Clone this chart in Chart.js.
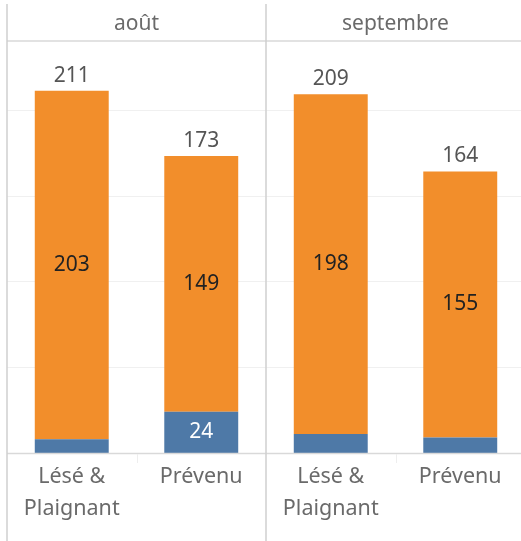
<!DOCTYPE html>
<html>
<head>
<meta charset="utf-8">
<script src="https://cdn.jsdelivr.net/npm/chart.js@4.4.1/dist/chart.umd.min.js"></script>
<style>
  html, body { margin: 0; padding: 0; background: #fff; overflow: hidden; }
  #wrap { position: absolute; left: 0; top: 0; width: 540px; height: 541px; }
</style>
</head>
<body>
<div id="wrap"><canvas id="chart" width="540" height="541"></canvas></div>
<script>
// données
const months = ["août", "septembre"];
const roles = [["Lésé &", "Plaignant"], ["Prévenu"]];
const categories = ["août - Lésé & Plaignant", "août - Prévenu", "septembre - Lésé & Plaignant", "septembre - Prévenu"];
const blueValues = [8, 24, 11, 9];
const orangeValues = [203, 149, 198, 155];
const totals = [211, 173, 209, 164];
const gridValues = [50, 100, 150, 200];

const FONT = "'Noto Sans', sans-serif";
const BLUE = "#4e79a7";
const ORANGE = "#f28e2b";

const gridPlugin = {
  id: "grid",
  beforeDatasetsDraw(chart) {
    const { ctx, chartArea, scales } = chart;
    ctx.save();
    ctx.strokeStyle = "#f0f0f0";
    ctx.lineWidth = 1;
    for (const v of gridValues) {
      const y = Math.round(scales.y.getPixelForValue(v)) + 0.5;
      ctx.beginPath();
      ctx.moveTo(chartArea.left, y);
      ctx.lineTo(chartArea.right, y);
      ctx.stroke();
    }
    ctx.restore();
  }
};

const framePlugin = {
  id: "frame",
  afterDraw(chart) {
    const { ctx, chartArea, scales } = chart;
    const left = chartArea.left;
    const mid = (chartArea.left + chartArea.right) / 2;
    const right = chartArea.right;
    const base = scales.y.getPixelForValue(0);
    ctx.save();

    // ligne de base et séparateurs
    ctx.strokeStyle = "#d9d9d9";
    ctx.lineWidth = 1.5;
    ctx.beginPath();
    ctx.moveTo(left, base + 0.5);
    ctx.lineTo(right, base + 0.5);
    ctx.moveTo(left, chartArea.top);
    ctx.lineTo(right, chartArea.top);
    ctx.stroke();

    ctx.strokeStyle = "#d0d0d0";
    ctx.lineWidth = 1.5;
    ctx.beginPath();
    ctx.moveTo(left, 4);
    ctx.lineTo(left, 541);
    ctx.moveTo(mid, 4);
    ctx.lineTo(mid, 541);
    ctx.stroke();

    // petits traits entre catégories
    ctx.strokeStyle = "#eeeeee";
    ctx.lineWidth = 1;
    ctx.beginPath();
    for (let i = 0; i < categories.length - 1; i += 2) {
      const x = (scales.x.getPixelForValue(i) + scales.x.getPixelForValue(i + 1)) / 2;
      ctx.moveTo(Math.round(x) + 0.5, base + 1);
      ctx.lineTo(Math.round(x) + 0.5, base + 10);
    }
    ctx.stroke();

    // en-têtes des mois
    ctx.fillStyle = "#6a6a6a";
    ctx.font = "21px " + FONT;
    ctx.textAlign = "center";
    ctx.textBaseline = "middle";
    ctx.fillText(months[0], (left + mid) / 2, 24);
    ctx.fillText(months[1], (mid + right) / 2, 24);

    // libellés des catégories
    ctx.textBaseline = "alphabetic";
    ctx.font = "21.5px " + FONT;
    categories.forEach((c, i) => {
      const x = scales.x.getPixelForValue(i);
      const lines = roles[i % 2];
      lines.forEach((line, j) => {
        ctx.fillText(line, x, base + 30 + j * 32);
      });
    });

    // étiquettes de valeurs
    const meta0 = chart.getDatasetMeta(0);
    const meta1 = chart.getDatasetMeta(1);
    ctx.font = "21px " + FONT;
    categories.forEach((c, i) => {
      const x = scales.x.getPixelForValue(i);
      const bBar = meta0.data[i];
      const oBar = meta1.data[i];
      ctx.textBaseline = "middle";
      ctx.fillStyle = "#222";
      ctx.fillText(String(orangeValues[i]), x, (oBar.y + oBar.base) / 2);
      if (blueValues[i] >= 20) {
        ctx.fillStyle = "#fff";
        ctx.fillText(String(blueValues[i]), x, (bBar.y + bBar.base) / 2);
      }
      ctx.textBaseline = "alphabetic";
      ctx.fillStyle = "#555";
      ctx.fillText(String(totals[i]), x, scales.y.getPixelForValue(totals[i]) - 9);
    });
    ctx.restore();
  }
};

new Chart(document.getElementById("chart"), {
  type: "bar",
  data: {
    labels: categories,
    datasets: [
      { label: "bleu", data: blueValues, backgroundColor: BLUE, borderWidth: 0 },
      { label: "orange", data: orangeValues, backgroundColor: ORANGE, borderWidth: 0 }
    ]
  },
  options: {
    responsive: false,
    devicePixelRatio: 1,
    animation: false,
    layout: { padding: { left: 7, right: 15, top: 41, bottom: 88 } },
    datasets: { bar: { categoryPercentage: 1, barPercentage: 0.571 } },
    scales: {
      x: { stacked: true, display: false },
      y: { stacked: true, display: false, min: 0, max: 240 }
    },
    plugins: {
      legend: { display: false },
      tooltip: { enabled: false }
    }
  },
  plugins: [gridPlugin, framePlugin]
});
</script>
</body>
</html>
